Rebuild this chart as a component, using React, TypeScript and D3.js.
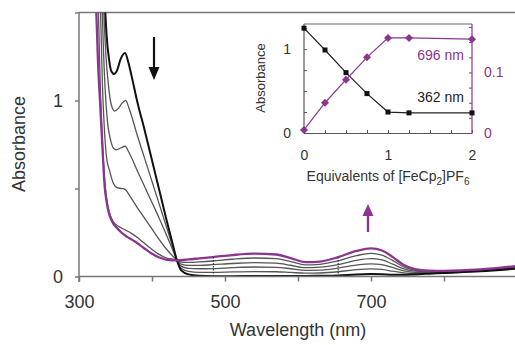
import React, { useEffect, useRef } from "react";
import * as d3 from "d3";

// UV-vis spectra, [wavelength nm, absorbance]
const spec0: [number, number][] = [
  [328, 2.6], [332, 2.0], [335, 1.6], [338, 1.36], [341, 1.24], [344, 1.17], [348, 1.15], [352, 1.17],
  [357, 1.235], [363, 1.27], [368, 1.21], [372, 1.14], [380, 0.99], [390, 0.83], [400, 0.66], [410, 0.49],
  [420, 0.32], [428, 0.19], [434, 0.094], [440, 0.035], [450, 0.012], [465, 0.004], [483, 0.002],
  [510, 0.002], [540, 0.003], [570, 0.003], [590, 0.003], [610, 0.003], [630, 0.004], [655, 0.006],
  [680, 0.012], [700, 0.014], [715, 0.013], [730, 0.01], [745, 0.01], [760, 0.012], [780, 0.016],
  [800, 0.02], [850, 0.03], [900, 0.045],
];
const spec1: [number, number][] = [
  [327, 2.5], [331, 1.9], [334, 1.5], [337, 1.25], [340, 1.1], [344, 0.98], [349, 0.94], [354, 0.955],
  [359, 0.985], [364, 1.0], [369, 0.95], [380, 0.8], [390, 0.67], [400, 0.54], [410, 0.41], [420, 0.28],
  [428, 0.175], [434, 0.094], [440, 0.047], [450, 0.029], [465, 0.024], [483, 0.024], [510, 0.026],
  [540, 0.028], [570, 0.027], [590, 0.023], [610, 0.019], [630, 0.02], [655, 0.027], [680, 0.039],
  [700, 0.043], [715, 0.04], [730, 0.03], [745, 0.021], [760, 0.018], [780, 0.019], [800, 0.022],
  [850, 0.032], [900, 0.048],
];
const spec2: [number, number][] = [
  [326, 2.4], [330, 1.8], [333, 1.35], [336, 1.05], [339, 0.88], [343, 0.78], [347, 0.73], [351, 0.72],
  [357, 0.73], [363, 0.74], [369, 0.7], [380, 0.6], [390, 0.51], [400, 0.42], [410, 0.33], [420, 0.235],
  [428, 0.155], [434, 0.094], [440, 0.059], [450, 0.046], [465, 0.044], [483, 0.045], [510, 0.05],
  [540, 0.054], [570, 0.052], [590, 0.044], [610, 0.035], [630, 0.036], [655, 0.048], [680, 0.065],
  [700, 0.072], [715, 0.067], [730, 0.05], [745, 0.032], [760, 0.024], [780, 0.023], [800, 0.025],
  [850, 0.034], [900, 0.051],
];
const spec3: [number, number][] = [
  [325, 2.3], [329, 1.6], [332, 1.1], [335, 0.82], [338, 0.67], [342, 0.6], [347, 0.53], [352, 0.505],
  [358, 0.5], [363, 0.495], [370, 0.455], [380, 0.39], [390, 0.33], [400, 0.27], [410, 0.21],
  [420, 0.155], [428, 0.118], [434, 0.094], [440, 0.07], [450, 0.063], [465, 0.063], [483, 0.067],
  [510, 0.074], [540, 0.079], [570, 0.076], [590, 0.064], [610, 0.05], [630, 0.053], [655, 0.068],
  [680, 0.092], [700, 0.102], [715, 0.094], [730, 0.07], [745, 0.043], [760, 0.03], [780, 0.026],
  [800, 0.027], [850, 0.036], [900, 0.054],
];
const spec4: [number, number][] = [
  [323, 2.2], [326, 1.6], [329, 1.1], [332, 0.78], [335, 0.56], [338, 0.44], [342, 0.36], [347, 0.31],
  [354, 0.285], [363, 0.265], [372, 0.245], [382, 0.215], [395, 0.17], [408, 0.13], [420, 0.105],
  [434, 0.094], [440, 0.082], [450, 0.08], [465, 0.083], [483, 0.088], [510, 0.098], [540, 0.105],
  [570, 0.101], [590, 0.085], [610, 0.066], [630, 0.069], [655, 0.089], [680, 0.118], [700, 0.131],
  [715, 0.121], [730, 0.09], [745, 0.054], [760, 0.036], [780, 0.029], [800, 0.03], [850, 0.038],
  [900, 0.057],
];
const specFinal: [number, number][] = [
  [316, 2.6], [320, 2.0], [323, 1.6], [326, 1.22], [329, 0.98], [332, 0.74], [335, 0.52], [338, 0.42],
  [341, 0.36], [345, 0.315], [352, 0.275], [358, 0.25], [366, 0.225], [376, 0.2], [388, 0.165],
  [399, 0.132], [410, 0.108], [420, 0.095], [434, 0.092], [450, 0.097], [465, 0.103], [483, 0.11],
  [510, 0.122], [540, 0.13], [570, 0.125], [590, 0.105], [610, 0.082], [630, 0.085], [655, 0.11],
  [680, 0.145], [700, 0.16], [715, 0.148], [730, 0.11], [745, 0.065], [760, 0.042], [780, 0.033],
  [800, 0.032], [850, 0.04], [900, 0.06],
];
const graySpectra = [spec1, spec2, spec3, spec4];
const lampMarks = [484, 655];

// inset titration
const equivalents = [0, 0.25, 0.5, 0.75, 1, 1.25, 2];
const abs362 = [1.25, 0.99, 0.72, 0.47, 0.25, 0.24, 0.24];
const abs696 = [0.005, 0.05, 0.088, 0.125, 0.157, 0.157, 0.155];

const xTicks = [300, 400, 500, 600, 700, 800];
const xLabels = [300, 500, 700];
const yTicks = [0, 0.5, 1, 1.5];
const yLabels = [0, 1];

const PURPLE = "#8b3590";
const FONT = "'Liberation Sans', Arial, sans-serif";

const App = () => {
  const ref = useRef<SVGSVGElement>(null);

  useEffect(() => {
    const svg = d3.select(ref.current);
    svg.selectAll("*").remove();

    const x = d3.scaleLinear().domain([300, 900]).range([79, 517]);
    const y = d3.scaleLinear().domain([0, 1.5]).range([276.5, 12.5]);

    svg.append("defs").append("clipPath").attr("id", "plotclip")
      .append("rect").attr("x", 79).attr("y", 12.5).attr("width", 440).attr("height", 264);

    // top frame
    svg.append("line").attr("x1", 79).attr("x2", 515).attr("y1", 12.5).attr("y2", 12.5)
      .attr("stroke", "#777").attr("stroke-width", 1.5);

    const line = d3.line<[number, number]>()
      .x((d) => x(d[0]))
      .y((d) => y(d[1]))
      .curve(d3.curveMonotoneX);

    const curves = svg.append("g").attr("clip-path", "url(#plotclip)");
    graySpectra.forEach((s) => {
      curves.append("path").attr("d", line(s)).attr("fill", "none")
        .attr("stroke", "#555").attr("stroke-width", 1.3);
    });
    curves.append("path").attr("d", line(spec0)).attr("fill", "none")
      .attr("stroke", "#111").attr("stroke-width", 2);
    curves.append("path").attr("d", line(specFinal)).attr("fill", "none")
      .attr("stroke", PURPLE).attr("stroke-width", 2.3);

    // small dotted marks (lamp change)
    lampMarks.forEach((w) => {
      svg.append("line").attr("x1", x(w)).attr("x2", x(w))
        .attr("y1", y(0)).attr("y2", y(0.118))
        .attr("stroke", "#222").attr("stroke-width", 1).attr("stroke-dasharray", "1.5,1.5");
    });

    // X axis
    const xAxis = svg.append("g").attr("transform", `translate(0,${y(0)})`)
      .call(d3.axisBottom(x).tickValues(xTicks).tickSize(5).tickPadding(14)
        .tickFormat((d) => (xLabels.includes(+d) ? String(d) : "")));
    xAxis.select(".domain").attr("stroke", "#777").attr("stroke-width", 1.5)
      .attr("d", `M79,0H515`);
    xAxis.selectAll(".tick line").attr("stroke", "#777").attr("stroke-width", 1.5);
    xAxis.selectAll("text").attr("font-size", 18).attr("font-family", FONT).attr("fill", "#333");

    // Y axis
    const yAxis = svg.append("g").attr("transform", `translate(79,0)`)
      .call(d3.axisLeft(y).tickValues(yTicks).tickSize(4).tickPadding(12)
        .tickFormat((d) => (yLabels.includes(+d) ? String(d) : "")));
    yAxis.select(".domain").attr("stroke", "#777").attr("stroke-width", 1.5)
      .attr("d", `M0,12.5V282`);
    yAxis.selectAll(".tick line").attr("stroke", "#777").attr("stroke-width", 1.5);
    yAxis.selectAll("text").attr("font-size", 18).attr("font-family", FONT).attr("fill", "#333");

    svg.append("text").attr("x", 298).attr("y", 336).attr("text-anchor", "middle")
      .attr("font-size", 18).attr("font-family", FONT).attr("fill", "#333")
      .text("Wavelength (nm)");
    svg.append("text").attr("transform", "translate(25,144) rotate(-90)").attr("text-anchor", "middle")
      .attr("font-size", 18).attr("font-family", FONT).attr("fill", "#333")
      .text("Absorbance");

    // arrows
    svg.append("line").attr("x1", 154).attr("x2", 154).attr("y1", 37).attr("y2", 70)
      .attr("stroke", "#111").attr("stroke-width", 2.2);
    svg.append("path").attr("d", "M148.5,67L159.5,67L154,80Z").attr("fill", "#111");
    svg.append("line").attr("x1", 368).attr("x2", 368).attr("y1", 214).attr("y2", 232)
      .attr("stroke", PURPLE).attr("stroke-width", 2.4);
    svg.append("path").attr("d", "M362.5,216L373.5,216L368,204Z").attr("fill", PURPLE);

    // ---------- inset ----------
    const ix = d3.scaleLinear().domain([0, 2]).range([304, 472]);
    const iyL = d3.scaleLinear().domain([0, 1.3]).range([133, 24]);
    const iyR = d3.scaleLinear().domain([0, 0.18]).range([133, 24]);

    svg.append("line").attr("x1", 304).attr("x2", 472).attr("y1", 24).attr("y2", 24)
      .attr("stroke", "#666").attr("stroke-width", 1.2);

    const ib = svg.append("g").attr("transform", "translate(0,133)")
      .call(d3.axisBottom(ix).tickValues(d3.range(0, 2.01, 0.25)).tickSizeInner(-3).tickSizeOuter(0)
        .tickPadding(17).tickFormat((d) => (Number.isInteger(+d) ? String(d) : "")));
    ib.select(".domain").attr("stroke", "#555").attr("stroke-width", 1.2);
    ib.selectAll(".tick line").attr("stroke", "#555");
    ib.selectAll("text").attr("font-size", 14).attr("font-family", FONT).attr("fill", "#333");

    const il = svg.append("g").attr("transform", "translate(304,0)")
      .call(d3.axisLeft(iyL).tickValues([0, 0.25, 0.5, 0.75, 1, 1.25]).tickSizeInner(-3).tickSizeOuter(0)
        .tickPadding(13).tickFormat((d) => (+d === 0 || +d === 1 ? String(d) : "")));
    il.select(".domain").attr("stroke", "#555").attr("stroke-width", 1.2).attr("d", "M0,24V133");
    il.selectAll(".tick line").attr("stroke", "#555");
    il.selectAll("text").attr("font-size", 14).attr("font-family", FONT).attr("fill", "#333");

    const ir = svg.append("g").attr("transform", "translate(472,0)")
      .call(d3.axisRight(iyR).tickValues(d3.range(0, 0.176, 0.025)).tickSizeInner(-3).tickSizeOuter(0)
        .tickPadding(12).tickFormat((d) => (Math.abs(+d) < 1e-9 ? "0" : Math.abs(+d - 0.1) < 1e-9 ? "0.1" : "")));
    ir.select(".domain").attr("stroke", PURPLE).attr("stroke-width", 1.2).attr("d", "M0,24V133");
    ir.selectAll(".tick line").attr("stroke", PURPLE);
    ir.selectAll("text").attr("font-size", 14).attr("font-family", FONT).attr("fill", PURPLE);

    const blackPts = equivalents.map((e, i) => [ix(e), iyL(abs362[i])]);
    const purplePts = equivalents.map((e, i) => [ix(e), iyR(abs696[i])]);

    svg.append("path").attr("d", d3.line()(blackPts as [number, number][])).attr("fill", "none")
      .attr("stroke", "#222").attr("stroke-width", 1.2);
    svg.append("path").attr("d", d3.line()(purplePts as [number, number][])).attr("fill", "none")
      .attr("stroke", PURPLE).attr("stroke-width", 1.2);

    svg.selectAll(".sq").data(blackPts).enter().append("rect")
      .attr("x", (d) => d[0] - 2.5).attr("y", (d) => d[1] - 2.5)
      .attr("width", 5).attr("height", 5).attr("fill", "#111");
    svg.selectAll(".dm").data(purplePts).enter().append("path")
      .attr("d", (d) => `M${d[0]},${d[1] - 4}L${d[0] + 4},${d[1]}L${d[0]},${d[1] + 4}L${d[0] - 4},${d[1]}Z`)
      .attr("fill", PURPLE);

    svg.append("text").attr("x", 464).attr("y", 60).attr("text-anchor", "end")
      .attr("font-size", 14).attr("font-family", FONT).attr("fill", PURPLE).text("696 nm");
    svg.append("text").attr("x", 464).attr("y", 102).attr("text-anchor", "end")
      .attr("font-size", 14).attr("font-family", FONT).attr("fill", "#222").text("362 nm");

    svg.append("text").attr("transform", "translate(265,78) rotate(-90)").attr("text-anchor", "middle")
      .attr("font-size", 13).attr("font-family", FONT).attr("fill", "#333").text("Absorbance");

    const eqLabel = svg.append("text").attr("x", 388).attr("y", 181).attr("text-anchor", "middle")
      .attr("font-size", 14).attr("font-family", FONT).attr("fill", "#333");
    eqLabel.append("tspan").text("Equivalents of [FeCp");
    eqLabel.append("tspan").attr("font-size", 10).attr("dy", 4).text("2");
    eqLabel.append("tspan").attr("dy", -4).text("]PF");
    eqLabel.append("tspan").attr("font-size", 10).attr("dy", 4).text("6");
  }, []);

  return (
    <svg ref={ref} width={515} height={345}
      style={{ position: "absolute", left: 0, top: 0, background: "white" }} />
  );
};

export default App;
